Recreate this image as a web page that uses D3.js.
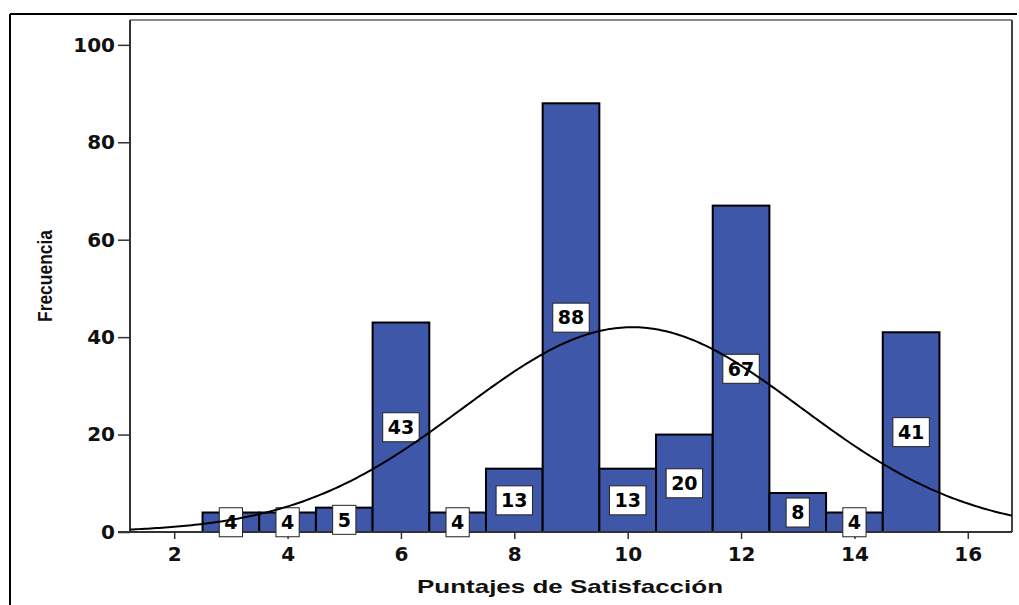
<!DOCTYPE html>
<html>
<head>
<meta charset="utf-8">
<script src="https://cdn.jsdelivr.net/npm/d3@7"></script>
<style>
  html, body { margin: 0; padding: 0; background: #fff; }
  svg { display: block; }
</style>
</head>
<body>
<svg id="chart" width="1019" height="605"></svg>
<script>
// ---- data ----
const categories = [3, 4, 5, 6, 7, 8, 9, 10, 11, 12, 13, 14, 15];
const frequencies = [4, 4, 5, 43, 4, 13, 88, 13, 20, 67, 8, 4, 41];
const xTicks = [2, 4, 6, 8, 10, 12, 14, 16];
const yTicks = [0, 20, 40, 60, 80, 100];
const curveMean = 10.08;
const curveSD = 2.98;
const binWidth = 1;
const xTitle = "Puntajes de Satisfacción";
const yTitle = "Frecuencia";

// ---- layout ----
const W = 1019, H = 605;
const plot = { left: 130, right: 1012, top: 20, bottom: 532 };
const barColor = "#3e57a9";
const numFont = "'DejaVu Sans', 'Liberation Sans', Arial, sans-serif";

const svg = d3.select("#chart");

const x = d3.scaleLinear().domain([1.22, 16.78]).range([plot.left, plot.right]);
const y = d3.scaleLinear().domain([0, 105.1]).range([plot.bottom, plot.top]);

// outer frame
svg.append("line").attr("x1", 10).attr("x2", 1017).attr("y1", 14).attr("y2", 14)
  .attr("stroke", "#000").attr("stroke-width", 2);
svg.append("line").attr("x1", 10).attr("x2", 10).attr("y1", 14).attr("y2", H)
  .attr("stroke", "#000").attr("stroke-width", 2);

// plot frame (top gray, right dark gray)
svg.append("line").attr("x1", plot.left).attr("x2", plot.right).attr("y1", plot.top).attr("y2", plot.top)
  .attr("stroke", "#8a8a8a").attr("stroke-width", 2);
svg.append("line").attr("x1", plot.right).attr("x2", plot.right).attr("y1", plot.top).attr("y2", plot.bottom)
  .attr("stroke", "#444").attr("stroke-width", 2);

// bars
const data = categories.map((c, i) => ({ c, v: frequencies[i] }));
svg.append("g").selectAll("rect").data(data).join("rect")
  .attr("x", d => x(d.c - binWidth / 2))
  .attr("width", d => x(d.c + binWidth / 2) - x(d.c - binWidth / 2))
  .attr("y", d => y(d.v))
  .attr("height", d => y(0) - y(d.v))
  .attr("fill", barColor)
  .attr("stroke", "#000")
  .attr("stroke-width", 2);

// axes
const yAxis = svg.append("g").attr("transform", `translate(${plot.left},0)`)
  .call(d3.axisLeft(y).tickValues(yTicks).tickSize(12).tickPadding(3).tickSizeOuter(0));
yAxis.select(".domain").attr("d", `M0,${plot.top}V${plot.bottom}`).attr("stroke", "#333").attr("stroke-width", 2);
yAxis.selectAll(".tick line").attr("stroke", "#333").attr("stroke-width", 1.5);
yAxis.selectAll(".tick text").attr("font-family", numFont).attr("font-weight", "bold")
  .attr("font-size", 20).attr("fill", "#111");

const xAxis = svg.append("g").attr("transform", `translate(0,${plot.bottom})`)
  .call(d3.axisBottom(x).tickValues(xTicks).tickSize(7).tickPadding(8).tickSizeOuter(0));
xAxis.select(".domain").attr("d", `M${plot.left - 12},0H${plot.right}`).attr("stroke", "#333").attr("stroke-width", 2);
xAxis.selectAll(".tick line").attr("stroke", "#333").attr("stroke-width", 1.5);
xAxis.selectAll(".tick text").attr("font-family", numFont).attr("font-weight", "bold")
  .attr("font-size", 20).attr("fill", "#111");

// value labels
const labels = svg.append("g").selectAll("g").data(data).join("g")
  .attr("transform", d => `translate(${x(d.c)},${y(d.v / 2)})`);
labels.each(function(d) {
  const g = d3.select(this);
  const rect = g.append("rect").attr("fill", "#fff").attr("stroke", "#222").attr("stroke-width", 1);
  const t = g.append("text").text(d.v)
    .attr("text-anchor", "middle").attr("dy", "0.36em")
    .attr("font-family", numFont).attr("font-weight", "bold").attr("font-size", 19).attr("fill", "#000");
  const w = t.node().getComputedTextLength() + 10;
  rect.attr("x", -w / 2).attr("y", -14.5).attr("width", w).attr("height", 29);
});

// normal curve (drawn above bars and labels)
const total = d3.sum(frequencies);
const dens = t => total * binWidth / (curveSD * Math.sqrt(2 * Math.PI)) *
  Math.exp(-0.5 * Math.pow((t - curveMean) / curveSD, 2));
const xs = d3.range(0, 301).map(i => x.domain()[0] + (x.domain()[1] - x.domain()[0]) * i / 300);
svg.append("path")
  .datum(xs)
  .attr("fill", "none")
  .attr("stroke", "#000")
  .attr("stroke-width", 2)
  .attr("d", d3.line().x(t => x(t)).y(t => y(dens(t))).curve(d3.curveLinear));

// titles
svg.append("text").text(xTitle)
  .attr("x", 570).attr("y", 593)
  .attr("text-anchor", "middle")
  .attr("font-family", "'Liberation Sans', Arial, sans-serif").attr("font-weight", "bold")
  .attr("font-size", 19).attr("fill", "#111")
  .attr("textLength", 306).attr("lengthAdjust", "spacingAndGlyphs");

svg.append("text").text(yTitle)
  .attr("transform", "translate(52,276) rotate(-90)")
  .attr("text-anchor", "middle")
  .attr("font-family", "'Liberation Sans Narrow', 'Liberation Sans', Arial, sans-serif").attr("font-weight", "bold")
  .attr("font-size", 20).attr("fill", "#111")
  .attr("textLength", 92).attr("lengthAdjust", "spacingAndGlyphs");
</script>
</body>
</html>
